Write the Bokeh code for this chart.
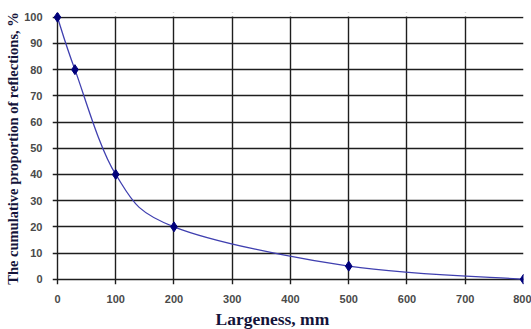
from bokeh.plotting import figure
from bokeh.embed import file_html
from bokeh.resources import INLINE
from bokeh.models import Range1d, FixedTicker, BoxAnnotation, Title

# data
largeness = [0, 30, 100, 200, 500, 800]
proportion = [100, 80, 40, 20, 5, 0]
x_ticks = [0, 100, 200, 300, 400, 500, 600, 700, 800]
y_ticks = [0, 10, 20, 30, 40, 50, 60, 70, 80, 90, 100]

p = figure(width=531, height=329, output_backend="svg", toolbar_location=None,
           x_range=Range1d(-8.5, 800), y_range=Range1d(-2.0, 101.8),
           min_border_left=52, min_border_right=8, min_border_top=12, min_border_bottom=45)
p.outline_line_color = None
p.background_fill_color = "white"

# grid
for g in (p.xgrid, p.ygrid):
    g.grid_line_color = "#1e1e1e"
    g.grid_line_width = 1.4
p.xgrid.ticker = FixedTicker(ticks=x_ticks)
p.ygrid.ticker = FixedTicker(ticks=y_ticks)

# mask grid stubs above 100
p.add_layout(BoxAnnotation(bottom=100.3, fill_color="white", fill_alpha=1.0,
                           line_alpha=0, level="underlay"))

# axes
for ax in (p.xaxis[0], p.yaxis[0]):
    ax.axis_line_color = None
    ax.major_tick_line_color = None
    ax.minor_tick_line_color = None
    ax.major_label_text_font = "Liberation Sans"
    ax.major_label_text_font_style = "bold"
    ax.major_label_text_font_size = "11px"
    ax.major_label_text_color = "#4a4a4a"
    ax.axis_label_text_font = "Liberation Serif"
    ax.axis_label_text_font_style = "bold"
    ax.axis_label_text_color = "#14143a"
p.xaxis.ticker = FixedTicker(ticks=x_ticks)
p.yaxis.ticker = FixedTicker(ticks=y_ticks)
p.xaxis.major_label_standoff = 4
p.yaxis.major_label_standoff = 4
p.yaxis.axis_label = "The cumulative proportion of reflections, %"
p.yaxis.axis_label_text_font_size = "14.5px"
p.yaxis.axis_label_standoff = 0

p.add_layout(Title(text="Largeness, mm", align="left", offset=163, standoff=2,
                   text_font="Liberation Serif", text_font_style="bold",
                   text_font_size="17.5px", text_color="#14143a"), "below")

# smoothed line (Catmull-Rom style Bezier through the data points, like Excel's smoothing)
n = len(largeness)
px = [largeness[0]] + largeness + [largeness[-1]]
py = [proportion[0]] + proportion + [proportion[-1]]
x0, y0, x1, y1, cx0, cy0, cx1, cy1 = [], [], [], [], [], [], [], []
for i in range(n - 1):
    a, b, c, d = i, i + 1, i + 2, i + 3
    x0.append(px[b]); y0.append(py[b]); x1.append(px[c]); y1.append(py[c])
    cx0.append(px[b] + (px[c] - px[a]) / 6.0); cy0.append(py[b] + (py[c] - py[a]) / 6.0)
    cx1.append(px[c] - (px[d] - px[b]) / 6.0); cy1.append(py[c] - (py[d] - py[b]) / 6.0)
p.bezier(x0=x0, y0=y0, x1=x1, y1=y1, cx0=cx0, cy0=cy0, cx1=cx1, cy1=cy1,
         line_color="#4040b0", line_width=1.3)

p.scatter(largeness, proportion, marker="diamond", size=10, color="#00007a")

open("out.html", "w").write(file_html(p, INLINE))
